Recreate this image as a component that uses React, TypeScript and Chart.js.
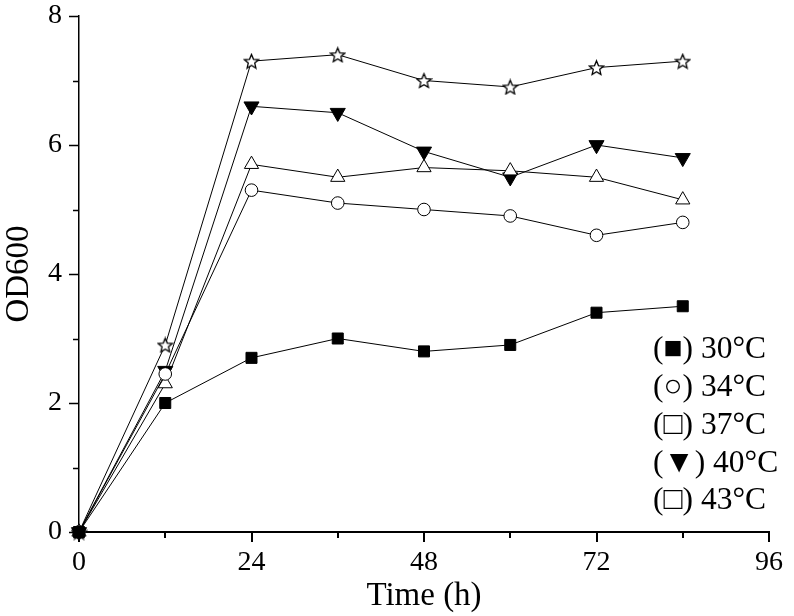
import React, { useEffect, useRef } from 'react';
import { Chart, registerables } from 'chart.js';

Chart.register(...registerables);

const hours = [0, 12, 24, 36, 48, 60, 72, 84];
const od30 = [0, 2.0, 2.7, 3.0, 2.8, 2.9, 3.4, 3.5];
const od34 = [0, 2.45, 5.3, 5.1, 5.0, 4.9, 4.6, 4.8];
const od37 = [0, 2.3, 5.7, 5.5, 5.65, 5.6, 5.5, 5.15];
const od40 = [0, 2.5, 6.6, 6.5, 5.9, 5.5, 6.0, 5.8];
const od43 = [0, 2.9, 7.3, 7.4, 7.0, 6.9, 7.2, 7.3];
const legendLabels = ['(■) 30°C', '(○) 34°C', '(□) 37°C', '(▼) 40°C', '(□) 43°C'];
const xTitle = 'Time (h)';
const yTitle = 'OD600';
const xMinorTicks = [0, 12, 24, 36, 48, 60, 72, 84, 96];
const yMinorTicks = [0, 1, 2, 3, 4, 5, 6, 7, 8];

const FONT = "'Liberation Serif', 'Times New Roman', serif";

function makeStar(size: number): HTMLCanvasElement {
  const c = document.createElement('canvas');
  c.width = size;
  c.height = size;
  const ctx = c.getContext('2d')!;
  const cx = size / 2;
  const cy = size / 2 + 0.8;
  const R = size / 2 - 1;
  const r = R * 0.45;
  ctx.beginPath();
  for (let i = 0; i < 10; i++) {
    const ang = -Math.PI / 2 + (i * Math.PI) / 5;
    const rad = i % 2 === 0 ? R : r;
    ctx.lineTo(cx + rad * Math.cos(ang), cy + rad * Math.sin(ang));
  }
  ctx.closePath();
  ctx.fillStyle = '#fff';
  ctx.fill();
  ctx.strokeStyle = '#000';
  ctx.lineWidth = 1.3;
  ctx.stroke();
  return c;
}

const ticksAndLegend = {
  id: 'ticksAndLegend',
  afterDraw(chart: any) {
    const ctx = chart.ctx;
    const xs = chart.scales.x;
    const ys = chart.scales.y;
    const area = chart.chartArea;
    ctx.save();
    ctx.strokeStyle = '#000';
    ctx.lineWidth = 1.5;
    ctx.beginPath();
    yMinorTicks.forEach((v) => {
      const y = Math.round(ys.getPixelForValue(v)) + 0.5;
      const len = v % 2 === 0 ? 10 : 6;
      ctx.moveTo(area.left - len, y);
      ctx.lineTo(area.left, y);
    });
    ctx.stroke();
    ctx.lineWidth = 2;
    ctx.beginPath();
    xMinorTicks.forEach((v) => {
      const x = Math.round(xs.getPixelForValue(v));
      const len = v % 24 === 0 ? 10 : 6;
      ctx.moveTo(x, area.bottom);
      ctx.lineTo(x, area.bottom + len);
    });
    ctx.stroke();

    ctx.fillStyle = '#000';
    ctx.font = `31.5px ${FONT}`;
    ctx.textAlign = 'left';
    ctx.textBaseline = 'middle';
    const startY = 350;
    const step = 37.8;
    legendLabels.forEach((t, i) => {
      ctx.fillText(t, 653, startY + i * step);
    });
    ctx.restore();
  },
};

export default function App() {
  const ref = useRef<HTMLCanvasElement | null>(null);
  useEffect(() => {
    if (!ref.current) return;
    const star = makeStar(17);
    const mk = (data: number[]) => hours.map((h, i) => ({ x: h, y: data[i] }));
    const base = {
      borderColor: '#000',
      borderWidth: 1,
      pointBorderColor: '#000',
      pointBorderWidth: 1,
      tension: 0,
      clip: false as any,
    };
    const chart = new Chart(ref.current, {
      type: 'line',
      data: {
        datasets: [
          { ...base, label: '30°C', data: mk(od30), pointStyle: 'rect', pointRadius: 7.8, pointBackgroundColor: '#000' },
          { ...base, label: '34°C', data: mk(od34), pointStyle: 'circle', pointRadius: 6.3, pointBackgroundColor: '#fff' },
          { ...base, label: '37°C', data: mk(od37), pointStyle: 'triangle', pointRadius: 8.2, pointBackgroundColor: '#fff' },
          { ...base, label: '40°C', data: mk(od40), pointStyle: 'triangle', rotation: 180, pointRadius: 8.7, pointBackgroundColor: '#000' },
          { ...base, label: '43°C', data: mk(od43), pointStyle: star as any, pointRadius: 8, pointBackgroundColor: '#fff' },
        ] as any,
      },
      options: {
        animation: false,
        responsive: true,
        maintainAspectRatio: false,
        layout: { padding: { top: 16, right: 25, left: 0, bottom: 0 } },
        plugins: { legend: { display: false }, tooltip: { enabled: false } },
        scales: {
          x: {
            type: 'linear',
            min: 0,
            max: 96,
            grid: { display: false, drawTicks: false },
            border: { display: true, color: '#000', width: 2 },
            ticks: { stepSize: 24, color: '#000', font: { family: FONT, size: 28 }, padding: 14, maxRotation: 0 },
            title: { display: true, text: xTitle, color: '#000', font: { family: FONT, size: 33 }, padding: { top: 0, bottom: 0 } },
            afterFit: (s: any) => { s.height = 84; s.paddingLeft = 0; s.paddingRight = 0; },
          },
          y: {
            type: 'linear',
            min: 0,
            max: 8,
            grid: { display: false, drawTicks: false },
            border: { display: true, color: '#000', width: 1.5 },
            ticks: { stepSize: 2, color: '#000', font: { family: FONT, size: 28 }, padding: 17 },
            title: { display: true, text: yTitle, color: '#000', font: { family: FONT, size: 33 }, padding: { top: 0, bottom: 0 } },
            afterFit: (s: any) => { s.width = 79; s.paddingTop = 0; s.paddingBottom = 0; },
          },
        },
      },
      plugins: [ticksAndLegend],
    });
    return () => chart.destroy();
  }, []);
  return (
    <div style={{ position: 'absolute', left: 0, top: 0, width: 794, height: 616, background: '#fff' }}>
      <canvas ref={ref} />
    </div>
  );
}
